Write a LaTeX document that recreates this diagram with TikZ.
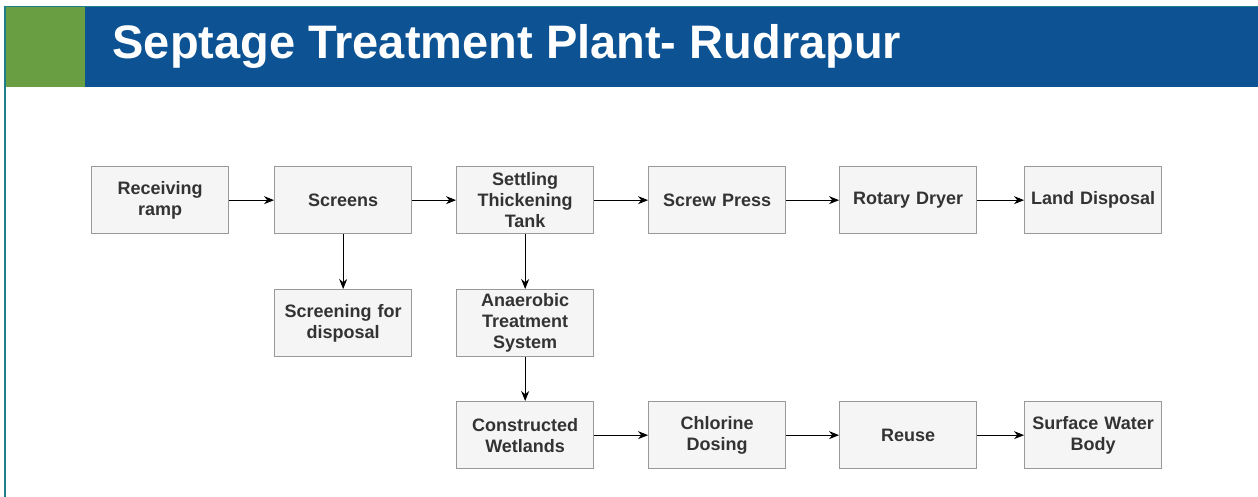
\documentclass[tikz,border=0pt]{standalone}
\usepackage{fontspec}
\setmainfont{Liberation Sans}
\usepackage{xcolor}
\usetikzlibrary{positioning, arrows.meta}
\definecolor{banner}{HTML}{0D5394}
\definecolor{leaf}{HTML}{6A9E42}
\definecolor{edge}{HTML}{1E7F8A}
\definecolor{ink}{HTML}{333333}
\definecolor{boxfill}{HTML}{F5F5F5}
\definecolor{boxline}{HTML}{999999}

\begin{document}
\begin{tikzpicture}[
  x=1pt, y=-1pt,
  font=\fontsize{18}{21}\selectfont\bfseries,
  every node/.style={align=center},
  bx/.style={rectangle, draw=boxline, line width=1.3pt, fill=boxfill,
             text=ink, inner sep=1pt, minimum width=137pt, minimum height=67pt,
             text width=135pt, anchor=north west},
  arr/.style={-{Stealth[length=10pt, width=8pt]}, line width=1pt}
]
\useasboundingbox (0,0) rectangle (1258,497);
% header band
\fill[banner] (85,7) rectangle (1258,87);
\fill[leaf] (6,7) rectangle (85,87);
\draw[edge, line width=1.3pt] (5,497) -- (5,6.5) -- (1258,6.5);
\node[anchor=west, text=white, font=\fontsize{47}{52}\selectfont\bfseries]
  (title) at (109,46) {Septage Treatment Plant- Rudrapur};
% top row
\node[bx] (ramp) at (91,166) {Receiving\\ramp};
\node[bx] (screens) at (274,166) {Screens};
\node[bx] (settle) at (456,166) {Settling\\Thickening\\Tank};
\node[bx] (press) at (648,166) {Screw Press};
\node[bx] (dryer) at (839,166) {Rotary Dryer};
\node[bx] (land) at (1024,166) {Land Disposal};
% middle row
\node[bx] (screening) at (274,289) {Screening for\\disposal};
\node[bx] (anaerobic) at (456,289) {Anaerobic\\Treatment\\System};
% bottom row
\node[bx] (wetland) at (456,401) {Constructed\\Wetlands};
\node[bx] (chlorine) at (648,401) {Chlorine\\Dosing};
\node[bx] (reuse) at (839,401) {Reuse};
\node[bx] (water) at (1024,401) {Surface Water\\Body};
% connectors
\draw[arr] (ramp) -- (screens);
\draw[arr] (screens) -- (settle);
\draw[arr] (settle) -- (press);
\draw[arr] (press) -- (dryer);
\draw[arr] (dryer) -- (land);
\draw[arr] (screens) -- (screening);
\draw[arr] (settle) -- (anaerobic);
\draw[arr] (anaerobic) -- (wetland);
\draw[arr] (wetland) -- (chlorine);
\draw[arr] (chlorine) -- (reuse);
\draw[arr] (reuse) -- (water);
\end{tikzpicture}
\end{document}
